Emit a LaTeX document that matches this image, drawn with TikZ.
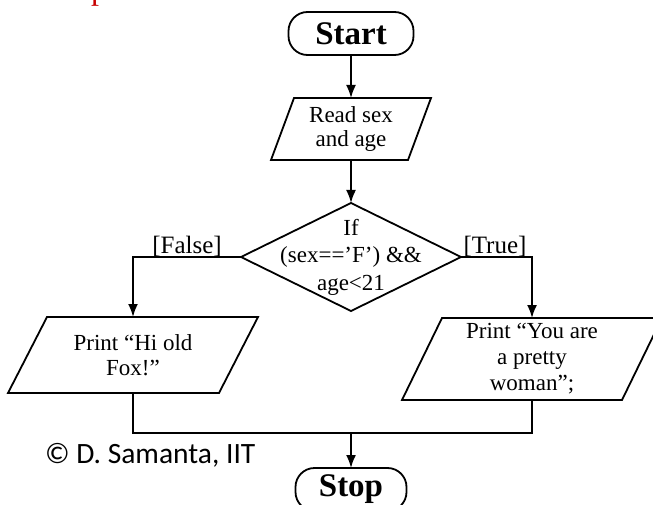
\documentclass[tikz,border=0pt]{standalone}
\usepackage{fontspec}
\setmainfont{Liberation Serif}
\newfontfamily\notefont{Carlito}
\usetikzlibrary{shapes.geometric,arrows.meta}

% outline of a slanted input/output box around a named rectangle node
% #1 = node name, #2 = half of the horizontal slant
\newcommand\slantoutline[2]{%
  \draw[flow] ([xshift=#2]#1.north west) -- ([xshift=#2]#1.north east)
    -- ([xshift=-#2]#1.south east) -- ([xshift=-#2]#1.south west) -- cycle;}

\begin{document}
\begin{tikzpicture}[x=1pt,y=-1pt,
  every node/.style={inner sep=0pt, outer sep=0pt},
  flow/.style={draw, line width=1.8pt},
  terminal/.style={flow, rectangle, rounded corners=19pt,
    font=\fontsize{33}{36}\bfseries\selectfont},
  io/.style={rectangle, align=center, font=\fontsize{23}{24}\selectfont},
  decision/.style={flow, diamond, inner sep=1pt},
  body/.style={align=center, font=\fontsize{23}{24}\selectfont},
  lbl/.style={font=\fontsize{25}{28}\selectfont},
  arr/.style={line width=1.8pt, -{Latex[length=13pt,width=10pt]}},
  wire/.style={line width=1.8pt}]

\useasboundingbox (0,0) rectangle (653,505);

% heading fragment at the top edge
\node[anchor=base west, text={rgb,255:red,200;green,0;blue,0},
  font=\fontsize{32}{36}\selectfont] (hd) at (91,0) {p};

% terminals
\node[terminal, minimum width=125pt, minimum height=43pt] (start) at (351,33.5) {Start};
\node[terminal, minimum width=111pt, minimum height=43pt] (stop) at (351,489.5) {Stop};

% input
\node[io, minimum width=137pt, minimum height=62pt] (read) at (351,129) {Read sex\\and age};
\slantoutline{read}{11.5pt}

% decision
\node[decision, minimum width=220pt, minimum height=108pt] (dec) at (351,257) {};
\node[body, font=\fontsize{23}{27.5}\selectfont] (dectxt) at (dec.center)
  {If\\(sex==’F’) \&\&\\age<21};

% outputs
\node[io, minimum width=211pt, minimum height=76pt, font=\fontsize{23}{25}\selectfont]
  (pf) at (133,355) {Print “Hi old\\Fox!”};
\slantoutline{pf}{19.5pt}
\node[io, minimum width=220pt, minimum height=82pt, font=\fontsize{23}{26}\selectfont]
  (pt) at (532,359) {Print “You are\\a pretty\\woman”;};
\slantoutline{pt}{20pt}

% branch labels
\node[lbl, anchor=base] (lf) at (187,253) {[False]};
\node[lbl, anchor=base] (lt) at (495,253) {[True]};

% credit
\node[anchor=base west, font=\notefont\fontsize{29.5}{32}\selectfont] (cr) at (45,463)
  {© D. Samanta, IIT};

% connectors
\coordinate (join) at (351,433);
\draw[arr] (start.south) -- (read.north);
\draw[arr] (read.south) -- (dec.north);
\draw[arr] (dec.west) -| (pf.north);
\draw[arr] (dec.east) -| (pt.north);
\draw[wire] (pf.south) |- (join) -| (pt.south);
\draw[arr] (join) -- (stop.north);
\end{tikzpicture}
\end{document}
